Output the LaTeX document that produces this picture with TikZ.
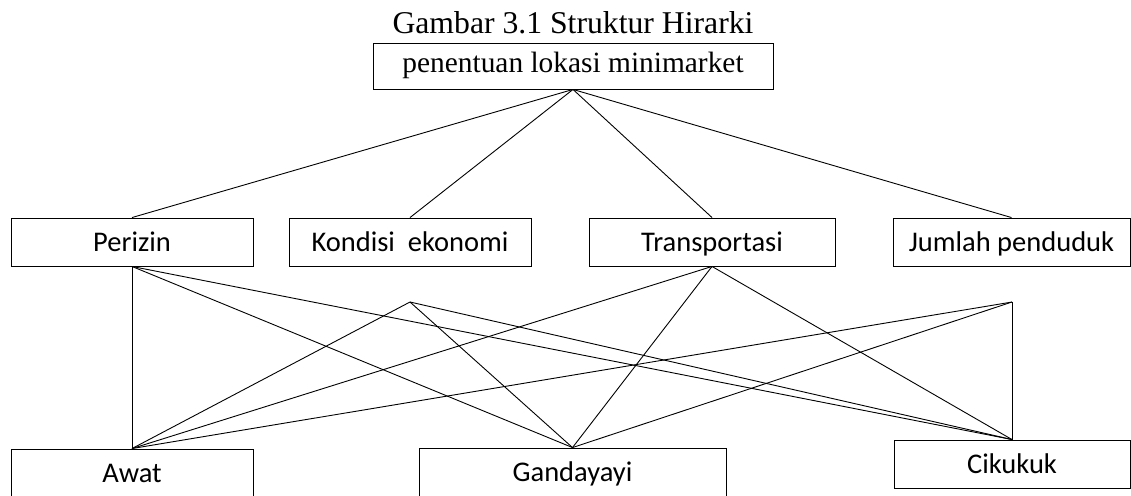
\documentclass[tikz,border=0pt]{standalone}
\usepackage{fontspec}
\setmainfont{Liberation Serif}
\newfontfamily\calibri{Carlito}
\usetikzlibrary{positioning}

\begin{document}
\begin{tikzpicture}[x=1pt,y=-1pt,
    kotak/.style={draw,line width=0.9pt,inner sep=0pt,minimum width=242pt,minimum height=48pt,
        font=\calibri\fontsize{28.5}{34}\selectfont,text height=19pt,text depth=0pt},
    garis/.style={line width=0.9pt}]
        \useasboundingbox (0,0) rectangle (1131,495);

        \node[anchor=base] (judul) at (573,34) {\fontsize{31.7}{38}\selectfont Gambar 3.1 Struktur Hirarki};
        \node[kotak,minimum width=400pt,minimum height=46pt,font=\fontsize{29.4}{35}\selectfont,
            text height=19.4pt,text depth=7.4pt] (tujuan) at (573,66) {penentuan lokasi minimarket};

        \node[kotak] (perizin) at (132,242) {Perizin};
        \node[kotak] (kondisi) at (410,242) {Kondisi\ \ ekonomi};
        \node[kotak,minimum width=246pt] (transport) at (712,242) {Transportasi};
        \node[kotak,minimum width=237pt] (jumlah) at (1011.5,242) {Jumlah penduduk};

        \node[kotak] (awat) at (132,473) {Awat};
        \node[kotak,minimum width=307pt] (ganda) at (572.5,472) {Gandayayi};
        \node[kotak,minimum width=236pt] (cikukuk) at (1012,464) {Cikukuk};

        \coordinate (kondisi-ujung) at (410,302);
        \coordinate (jumlah-ujung) at (1012,302);

        \path[draw,garis]
        (tujuan.south) edge (perizin.north)
        (tujuan.south) edge (kondisi.north)
        (tujuan.south) edge (transport.north)
        (tujuan.south) edge (jumlah.north)
        (perizin.south) edge (awat.north)
        (perizin.south) edge (ganda.north)
        (perizin.south) edge (cikukuk.north)
        (kondisi-ujung) edge (awat.north)
        (kondisi-ujung) edge (ganda.north)
        (kondisi-ujung) edge (cikukuk.north)
        (transport.south) edge (awat.north)
        (transport.south) edge (ganda.north)
        (transport.south) edge (cikukuk.north)
        (jumlah-ujung) edge (awat.north)
        (jumlah-ujung) edge (ganda.north)
        (jumlah-ujung) edge (cikukuk.north);
    \end{tikzpicture}
\end{document}
